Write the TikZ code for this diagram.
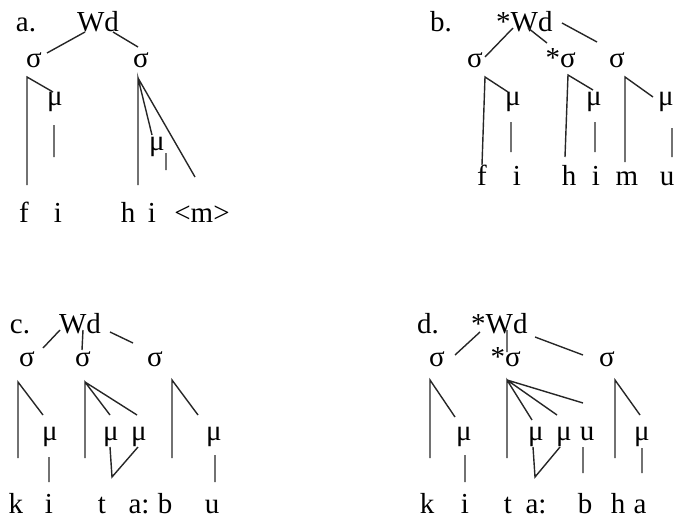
\documentclass[tikz,border=0pt]{standalone}
\usepackage{fontspec}
\setmainfont{Liberation Serif}
\tikzset{
  txt/.style={inner sep=0pt, anchor=base, font=\fontsize{29}{31}\selectfont},
  br/.style={line width=1.4pt, draw=black!85},
}
\begin{document}
\begin{tikzpicture}[x=1pt,y=-1pt]
\useasboundingbox (0,0) rectangle (678,519);
% ================= panel a =================
\node[txt] (aL) at (26,32) {a.};
\node[txt] (aW) at (98,32) {Wd};
\node[txt] (aS1) at (34,68) {σ};
\node[txt] (aS2) at (141,68) {σ};
\node[txt] (aM1) at (55,106) {μ};
\node[txt] (aM2) at (157,150) {μ};
\node[txt] (af) at (24,222) {f};
\node[txt] (ai) at (58,222) {i};
\node[txt] (ah) at (128,222) {h};
\node[txt] (ai2) at (152,222) {i};
\node[txt] (am) at (202,222) {<m>};
\path (85,32) coordinate (aw1) (47,53) coordinate (as1)
      (113,32) coordinate (aw2) (138,47) coordinate (as2)
      (27,77) coordinate (ap1) (27,185) coordinate (ap1f) (53,92) coordinate (ap1m)
      (54,125) coordinate (am1t) (54,157) coordinate (am1b)
      (138,78) coordinate (ap2) (138,185) coordinate (ap2h) (152,135) coordinate (ap2m) (195,177) coordinate (ap2x)
      (166,153) coordinate (am2t) (166,170) coordinate (am2b);
\draw[br] (aw1) -- (as1) (aw2) -- (as2)
  (ap1f) -- (ap1) -- (ap1m) (am1t) -- (am1b)
  (ap2h) -- (ap2) -- (ap2m) (ap2) -- (ap2x) (am2t) -- (am2b);
% ================= panel b =================
\node[txt] (bL) at (441,32) {b.};
\node[txt, anchor=base west] (bW) at (496,32) {*Wd};
\node[txt] (bS1) at (475,68) {σ};
\node[txt, anchor=base east] (bS2) at (576,68) {*σ};
\node[txt] (bS3) at (617,68) {σ};
\node[txt] (bM1) at (513,106) {μ};
\node[txt] (bM2) at (594,106) {μ};
\node[txt] (bM3) at (666,106) {μ};
\node[txt] (bf) at (482,185) {f};
\node[txt] (bi) at (517,185) {i};
\node[txt] (bh) at (569,185) {h};
\node[txt] (bi2) at (596,185) {i};
\node[txt] (bm) at (627,185) {m};
\node[txt] (bu) at (667,185) {u};
\path (513,28) coordinate (bw1) (485,57) coordinate (bs1)
      (528,28) coordinate (bw2) (547,43) coordinate (bs2)
      (562,23) coordinate (bw3) (597,42) coordinate (bs3)
      (485,77) coordinate (bp1) (482,165) coordinate (bp1f) (508,92) coordinate (bp1m)
      (511,122) coordinate (bm1t) (511,152) coordinate (bm1b)
      (568,75) coordinate (bp2) (565,157) coordinate (bp2h) (593,90) coordinate (bp2m)
      (595,122) coordinate (bm2t) (595,152) coordinate (bm2b)
      (625,77) coordinate (bp3) (625,162) coordinate (bp3m) (653,97) coordinate (bp3u)
      (672,128) coordinate (bm3t) (672,157) coordinate (bm3b);
\draw[br] (bw1) -- (bs1) (bw2) -- (bs2) (bw3) -- (bs3)
  (bp1f) -- (bp1) -- (bp1m) (bm1t) -- (bm1b)
  (bp2h) -- (bp2) -- (bp2m) (bm2t) -- (bm2b)
  (bp3m) -- (bp3) -- (bp3u) (bm3t) -- (bm3b);
% ================= panel c =================
\node[txt] (cL) at (20,333) {c.};
\node[txt] (cW) at (80,333) {Wd};
\node[txt] (cS1) at (27,366) {σ};
\node[txt] (cS2) at (83,366) {σ};
\node[txt] (cS3) at (155,366) {σ};
\node[txt] (cM1) at (50,440) {μ};
\node[txt] (cM2) at (111,440) {μ};
\node[txt] (cM3) at (139,440) {μ};
\node[txt] (cM4) at (214,440) {μ};
\node[txt] (ck) at (16,513) {k};
\node[txt] (ci) at (49,513) {i};
\node[txt] (ct) at (102,513) {t};
\node[txt] (ca) at (139,513) {a:};
\node[txt] (cb) at (165,513) {b};
\node[txt] (cu) at (212,513) {u};
\path (60,330) coordinate (cw1) (43,348) coordinate (cs1)
      (83,330) coordinate (cw2) (82,350) coordinate (cs2)
      (110,332) coordinate (cw3) (133,343) coordinate (cs3)
      (18,382) coordinate (cp1) (18,458) coordinate (cp1k) (43,415) coordinate (cp1m)
      (49,457) coordinate (cm1t) (49,482) coordinate (cm1b)
      (85,382) coordinate (cp2) (85,458) coordinate (cp2t) (110,415) coordinate (cp2m) (137,415) coordinate (cp2n)
      (110,447) coordinate (cm2t) (138,447) coordinate (cm3t) (112,477) coordinate (cmv)
      (172,380) coordinate (cp3) (172,458) coordinate (cp3b) (198,415) coordinate (cp3m)
      (215,455) coordinate (cm4t) (215,482) coordinate (cm4b);
\draw[br] (cw1) -- (cs1) (cw2) -- (cs2) (cw3) -- (cs3)
  (cp1k) -- (cp1) -- (cp1m) (cm1t) -- (cm1b)
  (cp2t) -- (cp2) -- (cp2m) (cp2) -- (cp2n) (cm2t) -- (cmv) -- (cm3t)
  (cp3b) -- (cp3) -- (cp3m) (cm4t) -- (cm4b);
% ================= panel d =================
\node[txt] (dL) at (428,333) {d.};
\node[txt, anchor=base west] (dW) at (471,333) {*Wd};
\node[txt, anchor=base east] (dS2) at (521,366) {*σ};
\node[txt] (dS1) at (437,366) {σ};
\node[txt] (dS3) at (607,366) {σ};
\node[txt] (dM1) at (464,440) {μ};
\node[txt] (dM2) at (536,440) {μ};
\node[txt] (dM3) at (564,440) {μ};
\node[txt] (dU) at (587,440) {u};
\node[txt] (dM4) at (642,440) {μ};
\node[txt] (dk) at (427,513) {k};
\node[txt] (di) at (465,513) {i};
\node[txt] (dt) at (508,513) {t};
\node[txt] (da) at (536,513) {a:};
\node[txt] (db) at (585,513) {b};
\node[txt] (dh) at (618,513) {h};
\node[txt] (da2) at (640,513) {a};
\path (480,332) coordinate (dw1) (455,355) coordinate (ds1)
      (507,330) coordinate (dw2) (507,352) coordinate (ds2)
      (535,337) coordinate (dw3) (583,355) coordinate (ds3)
      (430,380) coordinate (dp1) (430,458) coordinate (dp1k) (455,417) coordinate (dp1m)
      (465,455) coordinate (dm1t) (465,482) coordinate (dm1b)
      (507,380) coordinate (dp2) (507,458) coordinate (dp2t) (532,420) coordinate (dp2m)
      (557,415) coordinate (dp2n) (583,403) coordinate (dp2u)
      (533,447) coordinate (dm2t) (560,447) coordinate (dm3t) (535,477) coordinate (dmv)
      (583,447) coordinate (dut) (583,473) coordinate (dub)
      (615,380) coordinate (dp3) (615,458) coordinate (dp3b) (640,415) coordinate (dp3m)
      (642,448) coordinate (dm4t) (642,473) coordinate (dm4b);
\draw[br] (dw1) -- (ds1) (dw2) -- (ds2) (dw3) -- (ds3)
  (dp1k) -- (dp1) -- (dp1m) (dm1t) -- (dm1b)
  (dp2t) -- (dp2) -- (dp2m) (dp2) -- (dp2n) (dp2) -- (dp2u)
  (dm2t) -- (dmv) -- (dm3t) (dut) -- (dub)
  (dp3b) -- (dp3) -- (dp3m) (dm4t) -- (dm4b);
\end{tikzpicture}
\end{document}
